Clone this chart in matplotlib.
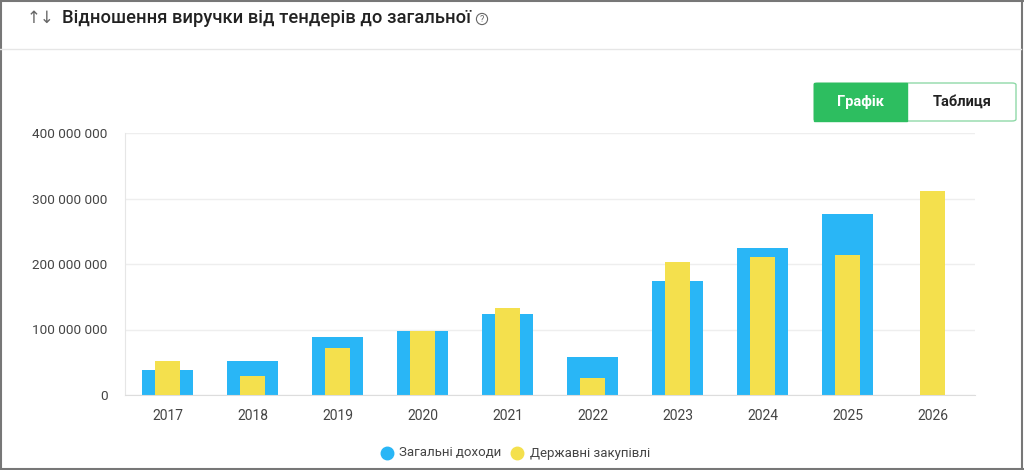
import numpy as np
import matplotlib.pyplot as plt
from matplotlib.patches import FancyBboxPatch, Rectangle
from matplotlib.lines import Line2D
from matplotlib.ticker import FuncFormatter

plt.rcParams['font.family'] = ['Roboto', 'DejaVu Sans']

# Chart data
years = ["2017", "2018", "2019", "2020", "2021", "2022", "2023", "2024", "2025", "2026"]
total_income = [38e6, 52e6, 88e6, 98e6, 124e6, 58e6, 174e6, 225e6, 276e6, 0]
public_procurement = [52e6, 29e6, 71e6, 97e6, 133e6, 26e6, 203e6, 211e6, 214e6, 311e6]
y_ticks = [0, 100e6, 200e6, 300e6, 400e6]

title = "Відношення виручки від тендерів до загальної"
legend_labels = ["Загальні доходи", "Державні закупівлі"]
btn_labels = ["Графік", "Таблиця"]

blue = "#29b6f6"
yellow = "#f4e04d"
green = "#2dbe60"
text_col = "#444444"

W, H = 1024, 470
fig = plt.figure(figsize=(W / 100, H / 100), dpi=100)

def fx(px):
    return px / W

def fy(py):
    return 1 - py / H

# Outer frame and header separator
fig.add_artist(Line2D([fx(0.5), fx(0.5)], [0, 1], color="#777777", lw=1.5))
fig.add_artist(Line2D([0, 1], [fy(0.5), fy(0.5)], color="#777777", lw=1.5))
fig.add_artist(Line2D([fx(1021.5), fx(1021.5)], [0, 1], color="#777777", lw=1.5))
fig.add_artist(Line2D([0, 1], [fy(468.5), fy(468.5)], color="#777777", lw=1.5))
fig.add_artist(Line2D([0, fx(1021)], [fy(49), fy(49)], color="#e6e6e6", lw=1))

# Header
fig.text(fx(27), fy(18), "↑↓", fontsize=12, color="#666666", va="center", ha="left",
         family=["Roboto", "DejaVu Sans"])
fig.text(fx(62), fy(18), title, fontsize=13.2, color="#222222", va="center", ha="left",
         weight="medium")
fig.text(fx(482), fy(19), "?", fontsize=6.5, color="#666666", va="center", ha="center",
         bbox=dict(boxstyle="circle,pad=0.12", fc="white", ec="#666666", lw=0.8))

# Toggle buttons
btn = FancyBboxPatch((fx(814), fy(121)), fx(202), fy(83) - fy(121),
                     boxstyle="round,pad=0,rounding_size=0.004", transform=fig.transFigure,
                     fc="white", ec="#8fd9a8", lw=1)
fig.add_artist(btn)
fig.add_artist(Rectangle((fx(814), fy(121)), fx(93), fy(83) - fy(121),
                         transform=fig.transFigure, fc=green, ec=green, lw=1))
fig.text(fx(860), fy(102), btn_labels[0], fontsize=10.5, color="white", weight="bold",
         ha="center", va="center")
fig.text(fx(962), fy(102), btn_labels[1], fontsize=10.5, color="#222222", weight="bold",
         ha="center", va="center")

# Chart
ax = fig.add_axes([fx(125), fy(395), fx(975) - fx(125), fy(133) - fy(395)])
x = np.arange(len(years))
ax.bar(x, total_income, width=0.6, color=blue, zorder=2)
ax.bar(x, public_procurement, width=0.3, color=yellow, zorder=3)

ax.set_xlim(-0.5, len(years) - 0.5)
ax.set_ylim(0, 400e6)
ax.set_yticks(y_ticks)
ax.yaxis.set_major_formatter(FuncFormatter(lambda v, p: f"{int(v):,}".replace(",", " ")))
ax.set_xticks(x)
ax.set_xticklabels(years)
ax.grid(axis="y", color="#eeeeee", lw=1, zorder=0)
for side in ["top", "right"]:
    ax.spines[side].set_visible(False)
ax.spines["left"].set_color("#e6e6e6")
ax.spines["bottom"].set_color("#dddddd")
ax.tick_params(axis="both", length=0, colors=text_col, labelsize=10)
ax.tick_params(axis="y", pad=12.5, labelsize=9.7)
ax.tick_params(axis="x", pad=10)

# Legend
fig.add_artist(Line2D([fx(387)], [fy(453)], marker="o", ms=9, color=blue, lw=0))
fig.text(fx(399), fy(453), legend_labels[0], fontsize=9.5, color=text_col, va="center")
fig.add_artist(Line2D([fx(517)], [fy(453)], marker="o", ms=9, color=yellow, lw=0))
fig.text(fx(530), fy(453), legend_labels[1], fontsize=9.5, color=text_col, va="center")

fig.savefig("out.png", dpi=100, facecolor="white")
